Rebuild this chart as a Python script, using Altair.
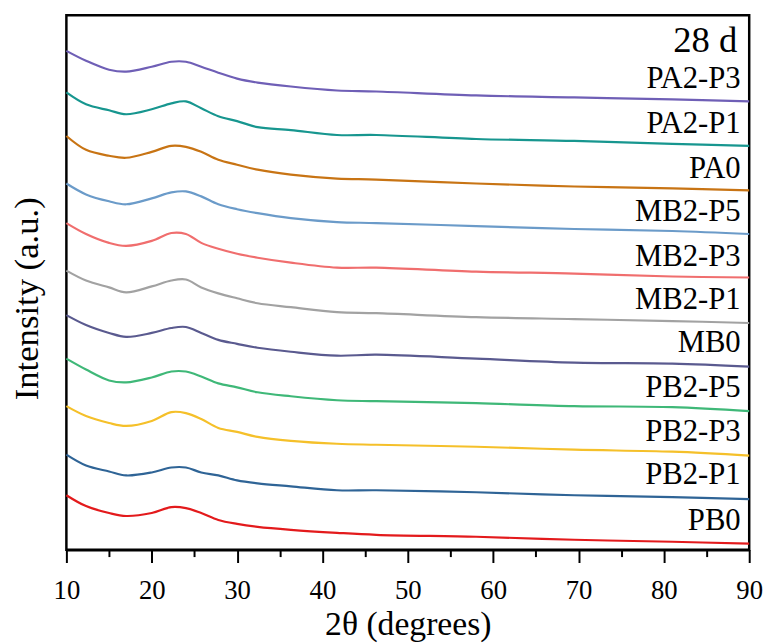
import altair as alt
import pandas as pd

# 2-theta sampling positions (degrees)
two_theta = [10, 12.3, 15, 17, 20, 22.3, 24, 25.8, 27.8, 30, 32.4, 36.3, 41.7, 46.3, 58, 69.5, 81, 90]

samples = ["PA2-P3", "PA2-P1", "PA0", "MB2-P5", "MB2-P3", "MB2-P1",
           "MB0", "PB2-P5", "PB2-P3", "PB2-P1", "PB0"]

# stacked intensities (a.u., offset included)
pa2_p3 = [504, 494, 485, 483, 488, 493, 493, 488, 482, 476, 472, 468, 464, 463, 459, 457, 455, 453]
pa2_p1 = [462, 450, 444, 440, 445, 451, 453, 446, 438, 433, 427, 424, 419, 419, 415, 413, 410, 408]
pa0    = [418, 404, 398, 396, 402, 408, 407, 402, 394, 389, 384, 379, 375, 374, 370, 367, 365, 363]
mb2_p5 = [370, 359, 352, 349, 355, 361, 362, 357, 349, 344, 340, 335, 331, 330, 327, 324, 322, 319]
mb2_p3 = [330, 319, 310, 307, 312, 320, 319, 310, 304, 299, 295, 290, 285, 285, 281, 279, 276, 275]
mb2_p1 = [282, 272, 265, 260, 266, 272, 273, 265, 259, 254, 249, 245, 240, 239, 235, 233, 231, 229]
mb0    = [237, 227, 219, 215, 219, 224, 225, 219, 212, 208, 204, 200, 196, 197, 193, 189, 188, 185]
pb2_p5 = [193, 182, 171, 169, 174, 180, 180, 175, 168, 164, 159, 155, 151, 150, 148, 145, 144, 140]
pb2_p3 = [145, 135, 128, 125, 130, 139, 138, 132, 123, 119, 114, 110, 107, 106, 104, 101, 99, 95]
pb2_p1 = [96, 85, 79, 75, 78, 83, 83, 78, 75, 70, 67, 64, 60, 60, 58, 55, 53, 51]
pb0    = [55, 44, 37, 34, 37, 43, 42, 37, 30, 26, 23, 20, 17, 15, 13, 10, 8, 6]

series = [pa2_p3, pa2_p1, pa0, mb2_p5, mb2_p3, mb2_p1, mb0, pb2_p5, pb2_p3, pb2_p1, pb0]

colors = ["#6f5fb6", "#17968f", "#c87414", "#6b9bc9", "#f06e6e", "#a2a2a2",
          "#5a5a8f", "#3fb878", "#f5c02a", "#2f6496", "#e31a1c"]

major_ticks = [10, 20, 30, 40, 50, 60, 70, 80, 90]
minor_ticks = [15, 25, 35, 45, 55, 65, 75, 85]

# label anchor intensities (where each sample name sits) and label x
label_level = [475, 430, 385, 341, 296, 252, 209, 163, 119, 75, 29]
label_x = 89
panel_title = "28 d"
panel_title_level = 514

FONT = "Liberation Serif"

rows = []
for name, vals in zip(samples, series):
    for i, (t, v) in enumerate(zip(two_theta, vals)):
        rows.append({"sample": name, "two_theta": t, "intensity": v, "order": i})
df = pd.DataFrame(rows)

labels_df = pd.DataFrame({"sample": samples, "x": [label_x] * len(samples), "y": label_level})
title_df = pd.DataFrame({"text": [panel_title], "x": [label_x - 0.4], "y": [panel_title_level]})

xscale = alt.Scale(domain=[10, 90], nice=False, zero=False)
yscale = alt.Scale(domain=[0, 540], nice=False, zero=False)

yaxis = alt.Axis(
    title="Intensity (a.u.)", labels=False, ticks=False, domain=False, grid=False,
    titleFont=FONT, titleFontSize=35, titleFontWeight="normal", titleColor="black",
    titleAngle=270, titleAlign="center", titleBaseline="alphabetic",
    titleX=-29, titleY=286)

lines = alt.Chart(df).mark_line(strokeWidth=2.2, interpolate="catmull-rom").encode(
    x=alt.X("two_theta:Q", scale=xscale,
            axis=alt.Axis(
                title="2θ (degrees)", orient="bottom",
                values=major_ticks,
                tickSize=13, tickWidth=2, tickColor="black",
                domainColor="black", domainWidth=2.5,
                labelFont=FONT, labelFontSize=27, labelColor="black",
                labelPadding=15, labelFlush=False,
                titleFont=FONT, titleFontSize=34, titleFontWeight="normal", titleColor="black",
                titlePadding=5, grid=False)),
    y=alt.Y("intensity:Q", scale=yscale, axis=yaxis),
    color=alt.Color("sample:N", scale=alt.Scale(domain=samples, range=colors), legend=None),
    order="order:Q",
    detail="sample:N",
)

labels = alt.Chart(labels_df).mark_text(
    font=FONT, fontSize=31, align="right", baseline="middle", color="black"
).encode(
    x=alt.X("x:Q", scale=xscale,
            axis=alt.Axis(orient="bottom", values=minor_ticks, tickSize=7, tickWidth=2,
                          tickColor="black", labels=False, domain=False, grid=False, title=None)),
    y=alt.Y("y:Q", scale=yscale, axis=yaxis),
    text="sample:N",
)

ptitle = alt.Chart(title_df).mark_text(
    font=FONT, fontSize=37, align="right", baseline="middle", color="black"
).encode(
    x=alt.X("x:Q", scale=xscale, axis=None),
    y=alt.Y("y:Q", scale=yscale, axis=yaxis),
    text="text:N",
)

chart = alt.layer(lines, labels, ptitle).resolve_axis(x="independent").properties(
    width=690, height=540,
    padding={"left": 59, "top": 4, "right": 20, "bottom": 92},
    autosize=alt.AutoSizeParams(type="none"),
).configure_view(stroke="black", strokeWidth=2.5)

chart.save("out.html", embed_options={"renderer": "svg", "actions": False})
